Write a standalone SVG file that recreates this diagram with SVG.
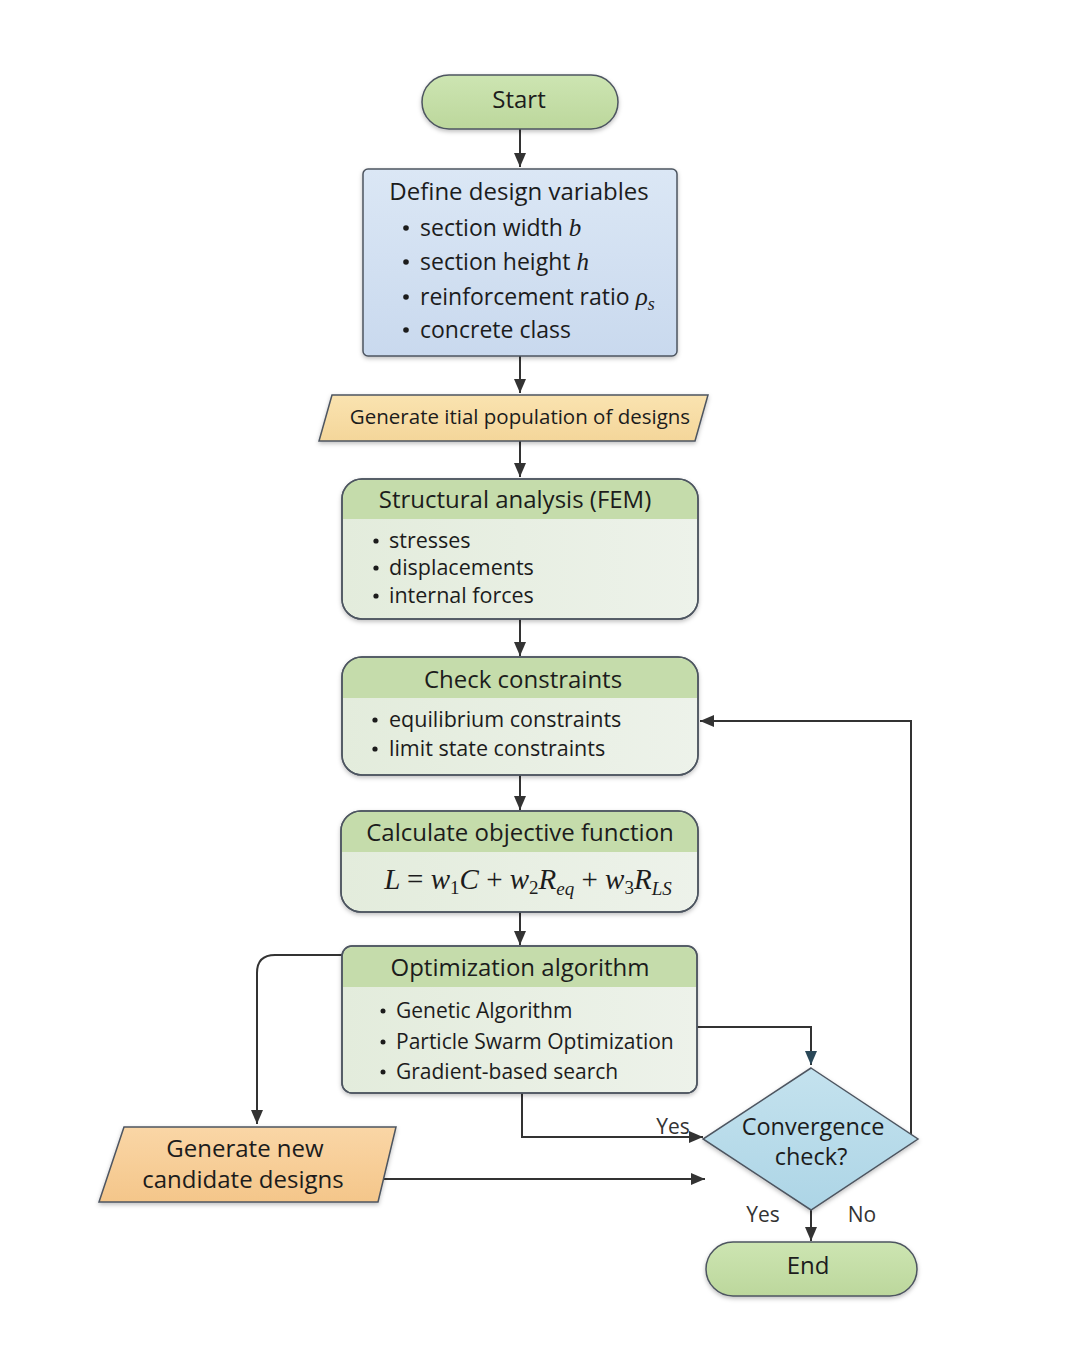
<svg xmlns="http://www.w3.org/2000/svg" width="1080" height="1350" viewBox="0 0 1080 1350">
<defs>
<style>
text{font-family:"Open Sans","Noto Sans","DejaVu Sans",sans-serif;fill:#1c1c1c}
.h{font-size:24px}
.b23{font-size:23px}
.b22{font-size:21.5px}
.b21{font-size:21px}
.c{text-anchor:middle}
.dot{fill:#1c1c1c}
.math{font-family:"Liberation Serif","DejaVu Serif",serif;font-style:italic}
.edge{fill:none;stroke:#333;stroke-width:2}
.node{stroke:#4d5560;stroke-width:1.5}
.lbl{font-size:21px;fill:#333}
</style>
<linearGradient id="gGreen" x1="0" y1="0" x2="0" y2="1"><stop offset="0" stop-color="#cde5b2"/><stop offset="1" stop-color="#bcd79c"/></linearGradient>
<linearGradient id="gBlue" x1="0" y1="0" x2="0" y2="1"><stop offset="0" stop-color="#dbe7f5"/><stop offset="1" stop-color="#c9d9ee"/></linearGradient>
<linearGradient id="gBody" x1="0" y1="0" x2="1" y2="0"><stop offset="0" stop-color="#e3ecdc"/><stop offset="1" stop-color="#edf2ea"/></linearGradient>
<linearGradient id="gYel" x1="0" y1="0" x2="0" y2="1"><stop offset="0" stop-color="#fae3b0"/><stop offset="1" stop-color="#f4d69a"/></linearGradient>
<linearGradient id="gOr" x1="0" y1="0" x2="0" y2="1"><stop offset="0" stop-color="#fad6a6"/><stop offset="1" stop-color="#f4c68a"/></linearGradient>
<linearGradient id="gDia" x1="0" y1="0" x2="0" y2="1"><stop offset="0" stop-color="#c4e2ee"/><stop offset="1" stop-color="#add5e6"/></linearGradient>
<filter id="sh" x="-10%" y="-10%" width="120%" height="130%"><feDropShadow dx="0" dy="2" stdDeviation="2" flood-color="#000" flood-opacity="0.25"/></filter>
<marker id="ar" viewBox="0 0 14 12" refX="14" refY="6" markerWidth="14" markerHeight="12" markerUnits="userSpaceOnUse" orient="auto"><path d="M0,0L14,6L0,12z" fill="#333"/></marker>
<marker id="arT" viewBox="0 0 14 12" refX="14" refY="6" markerWidth="14" markerHeight="12" markerUnits="userSpaceOnUse" orient="auto"><path d="M0,0L14,6L0,12z" fill="#2a4858"/></marker>
</defs>
<rect width="1080" height="1350" fill="#fff"/>

<g id="connectors">
<path class="edge" d="M520,129V167" marker-end="url(#ar)"/>
<path class="edge" d="M520,356V393" marker-end="url(#ar)"/>
<path class="edge" d="M520,441V477" marker-end="url(#ar)"/>
<path class="edge" d="M520,619V656" marker-end="url(#ar)"/>
<path class="edge" d="M520,775V810" marker-end="url(#ar)"/>
<path class="edge" d="M520,912V945" marker-end="url(#ar)"/>
<path class="edge" d="M342,955H275Q257,955 257,973V1124" marker-end="url(#ar)"/>
<path class="edge" d="M380,1179H705" marker-end="url(#ar)"/>
<path class="edge" d="M522,1093V1137H703" marker-end="url(#ar)"/>
<path class="edge" d="M697,1027H811V1065" marker-end="url(#arT)"/>
<path class="edge" d="M911,1135V721H700" marker-end="url(#ar)"/>
<path class="edge" d="M811,1210V1241" marker-end="url(#ar)"/>
<text class="lbl" x="673" y="1134" text-anchor="middle">Yes</text>
<text class="lbl" x="763" y="1222" text-anchor="middle">Yes</text>
<text class="lbl" x="862" y="1222" text-anchor="middle">No</text>
</g>

<g id="start">
<rect class="node" x="422" y="75" width="196" height="54" rx="27" fill="url(#gGreen)" filter="url(#sh)"/>
<text class="h c" x="519" y="108" font-size="25">Start</text>
</g>

<g id="define">
<rect class="node" x="363" y="169" width="314" height="187" rx="5" fill="url(#gBlue)" filter="url(#sh)"/>
<text class="h c" x="519" y="200">Define design variables</text>
<circle class="dot" cx="406" cy="228" r="2.8"/>
<circle class="dot" cx="406" cy="262" r="2.8"/>
<circle class="dot" cx="406" cy="297" r="2.8"/>
<circle class="dot" cx="406" cy="330" r="2.8"/>
<text class="b23" x="420" y="236">section width <tspan class="math" font-size="25">b</tspan></text>
<text class="b23" x="420" y="270">section height <tspan class="math" font-size="25">h</tspan></text>
<text class="b23" x="420" y="305">reinforcement ratio <tspan class="math" font-size="25">ρ</tspan><tspan class="math" font-size="18" dy="5">s</tspan></text>
<text class="b23" x="420" y="338">concrete class</text>
</g>

<g id="initpop">
<path class="node" d="M332,395H708L695,441H319Z" fill="url(#gYel)" filter="url(#sh)"/>
<text class="c" x="520" y="424" font-size="20.5">Generate itial population of designs</text>
</g>

<g id="fem">
<rect class="node" x="342" y="479" width="356" height="140" rx="20" fill="url(#gBody)" filter="url(#sh)"/>
<path d="M343,519V499Q343,480 362,480H678Q697,480 697,499V519Z" fill="#c5dcab"/>
<rect x="342" y="479" width="356" height="140" rx="20" fill="none" stroke="#4d5560" stroke-width="1.5"/>
<text class="h c" x="515" y="508">Structural analysis (FEM)</text>
<circle class="dot" cx="376" cy="541" r="2.6"/>
<circle class="dot" cx="376" cy="568" r="2.6"/>
<circle class="dot" cx="376" cy="596" r="2.6"/>
<text class="b22" x="389" y="548">stresses</text>
<text class="b22" x="389" y="575">displacements</text>
<text class="b22" x="389" y="603">internal forces</text>
</g>

<g id="constraints">
<rect class="node" x="342" y="657" width="356" height="118" rx="20" fill="url(#gBody)" filter="url(#sh)"/>
<path d="M343,698V677Q343,658 362,658H678Q697,658 697,677V698Z" fill="#c5dcab"/>
<rect x="342" y="657" width="356" height="118" rx="20" fill="none" stroke="#4d5560" stroke-width="1.5"/>
<text class="h c" x="523" y="688">Check constraints</text>
<circle class="dot" cx="375" cy="720" r="2.6"/>
<circle class="dot" cx="375" cy="749" r="2.6"/>
<text class="b22" x="389" y="727">equilibrium constraints</text>
<text class="b22" x="389" y="756">limit state constraints</text>
</g>

<g id="objective">
<rect class="node" x="341" y="811" width="357" height="101" rx="20" fill="url(#gBody)" filter="url(#sh)"/>
<path d="M342,852V831Q342,812 361,812H678Q697,812 697,831V852Z" fill="#c5dcab"/>
<rect x="341" y="811" width="357" height="101" rx="20" fill="none" stroke="#4d5560" stroke-width="1.5"/>
<text class="h c" x="520" y="841">Calculate objective function</text>
<text class="math" x="528" y="889" text-anchor="middle" font-size="29">L <tspan font-style="normal">=</tspan> w<tspan font-style="normal" font-size="19" dy="5">1</tspan><tspan dy="-5">C</tspan> <tspan font-style="normal">+</tspan> w<tspan font-style="normal" font-size="19" dy="5">2</tspan><tspan dy="-5">R</tspan><tspan font-size="19" dy="6">eq</tspan><tspan dy="-6"> </tspan><tspan font-style="normal">+</tspan> w<tspan font-style="normal" font-size="19" dy="5">3</tspan><tspan dy="-5">R</tspan><tspan font-size="19" dy="6">LS</tspan></text>
</g>

<g id="optimization">
<rect class="node" x="342" y="946" width="355" height="147" rx="10" fill="url(#gBody)" filter="url(#sh)"/>
<path d="M343,987V957Q343,947 353,947H686Q696,947 696,957V987Z" fill="#c5dcab"/>
<rect x="342" y="946" width="355" height="147" rx="10" fill="none" stroke="#4d5560" stroke-width="1.5"/>
<text class="h c" x="520" y="976">Optimization algorithm</text>
<circle class="dot" cx="383" cy="1011" r="2.5"/>
<circle class="dot" cx="383" cy="1042" r="2.5"/>
<circle class="dot" cx="383" cy="1072" r="2.5"/>
<text class="b21" x="396" y="1018">Genetic Algorithm</text>
<text class="b21" x="396" y="1049">Particle Swarm Optimization</text>
<text class="b21" x="396" y="1079">Gradient-based search</text>
</g>

<g id="newcand">
<path class="node" d="M124,1127H396L378,1202H99Z" fill="url(#gOr)" filter="url(#sh)"/>
<text class="h c" x="245" y="1157">Generate new</text>
<text class="h c" x="243" y="1188">candidate designs</text>
</g>

<g id="convergence">
<path class="node" d="M811,1068L918,1139L811,1210L703,1139Z" fill="url(#gDia)" filter="url(#sh)"/>
<text class="c" x="813" y="1135" font-size="23.5">Convergence</text>
<text class="c" x="811" y="1165" font-size="23.5">check?</text>
</g>

<g id="end">
<rect class="node" x="706" y="1242" width="211" height="54" rx="27" fill="url(#gGreen)" filter="url(#sh)"/>
<text class="h c" x="808" y="1274" font-size="25">End</text>
</g>
</svg>
